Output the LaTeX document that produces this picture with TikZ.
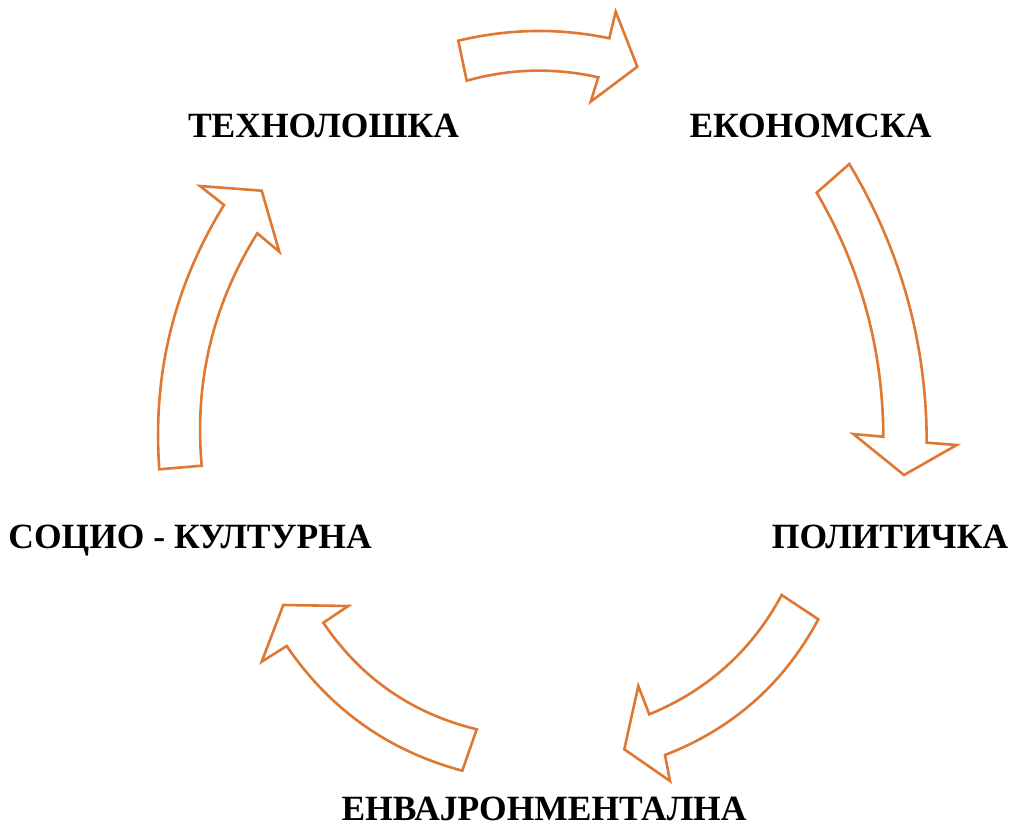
\documentclass[tikz,border=0pt]{standalone}
\usepackage{fontspec}
\setmainfont{Liberation Serif}
\definecolor{arrowline}{RGB}{222,120,50}
\begin{document}
\begin{tikzpicture}[x=1pt,y=-1pt,
  blockarrow/.style={draw=arrowline,fill=white,line width=2.6pt,line join=miter},
  label/.style={anchor=base,inner sep=0pt,font=\fontsize{35.5}{36}\selectfont\bfseries}]
\useasboundingbox (0,0) rectangle (1013,828);

% labels of the five factors
\node[label] (tech) at (323.5,137) {ТЕХНОЛОШКА};
\node[label] (econ) at (810.5,137) {ЕКОНОМСКА};
\node[label] (pol)  at (890,548)   {ПОЛИТИЧКА};
\node[label] (env)  at (544,820)   {ЕНВАЈРОНМЕНТАЛНА};
\node[label] (soc)  at (190,548)   {СОЦИО - КУЛТУРНА};

% top arrow: technology -> economy
\draw[blockarrow] (458.3,40.7) -- (466.7,80.7)
  .. controls (510.2,68.5) and (554.1,67.4) .. (598.3,77.3)
  -- (590.7,101.7) -- (637.3,66.7) -- (615.7,11.7) -- (609.3,38.3)
  .. controls (559.1,27.8) and (508.8,28.6) .. (458.3,40.7) -- cycle;

% right arrow: economy -> politics
\draw[blockarrow] (849.3,164) -- (816.7,192.7)
  .. controls (860.8,268) and (883.0,349.4) .. (883.3,436.7)
  -- (853.3,434) -- (904,475) -- (956.7,445) -- (926.7,442.7)
  .. controls (926.6,342.8) and (900.8,249.9) .. (849.3,164) -- cycle;

% lower right arrow: politics -> environment
\draw[blockarrow] (781.7,595) -- (818.3,619.3)
  .. controls (784,683.5) and (732.9,728.7) .. (665,755)
  -- (670,781) -- (624.3,749.3) -- (638.3,686) -- (649.3,714.3)
  .. controls (707.7,690.3) and (751.8,650.5) .. (781.7,595) -- cycle;

% lower left arrow: environment -> socio-cultural
\draw[blockarrow] (476.7,729.3) -- (462.3,770.7)
  .. controls (388.6,751) and (330,709.5) .. (286.7,646)
  -- (261.7,661.7) -- (283.3,605) -- (348.3,606) -- (323.3,622.7)
  .. controls (360.7,678) and (411.8,713.5) .. (476.7,729.3) -- cycle;

% left arrow: socio-cultural -> technology
\draw[blockarrow] (159.3,469.3) -- (201.7,465.7)
  .. controls (194.2,381.8) and (212.8,304.4) .. (257.3,233.3)
  -- (279.3,251.7) -- (261.7,190.7) -- (200,186) -- (224,205)
  .. controls (173.9,286.2) and (152.4,374.3) .. (159.3,469.3) -- cycle;
\end{tikzpicture}
\end{document}
